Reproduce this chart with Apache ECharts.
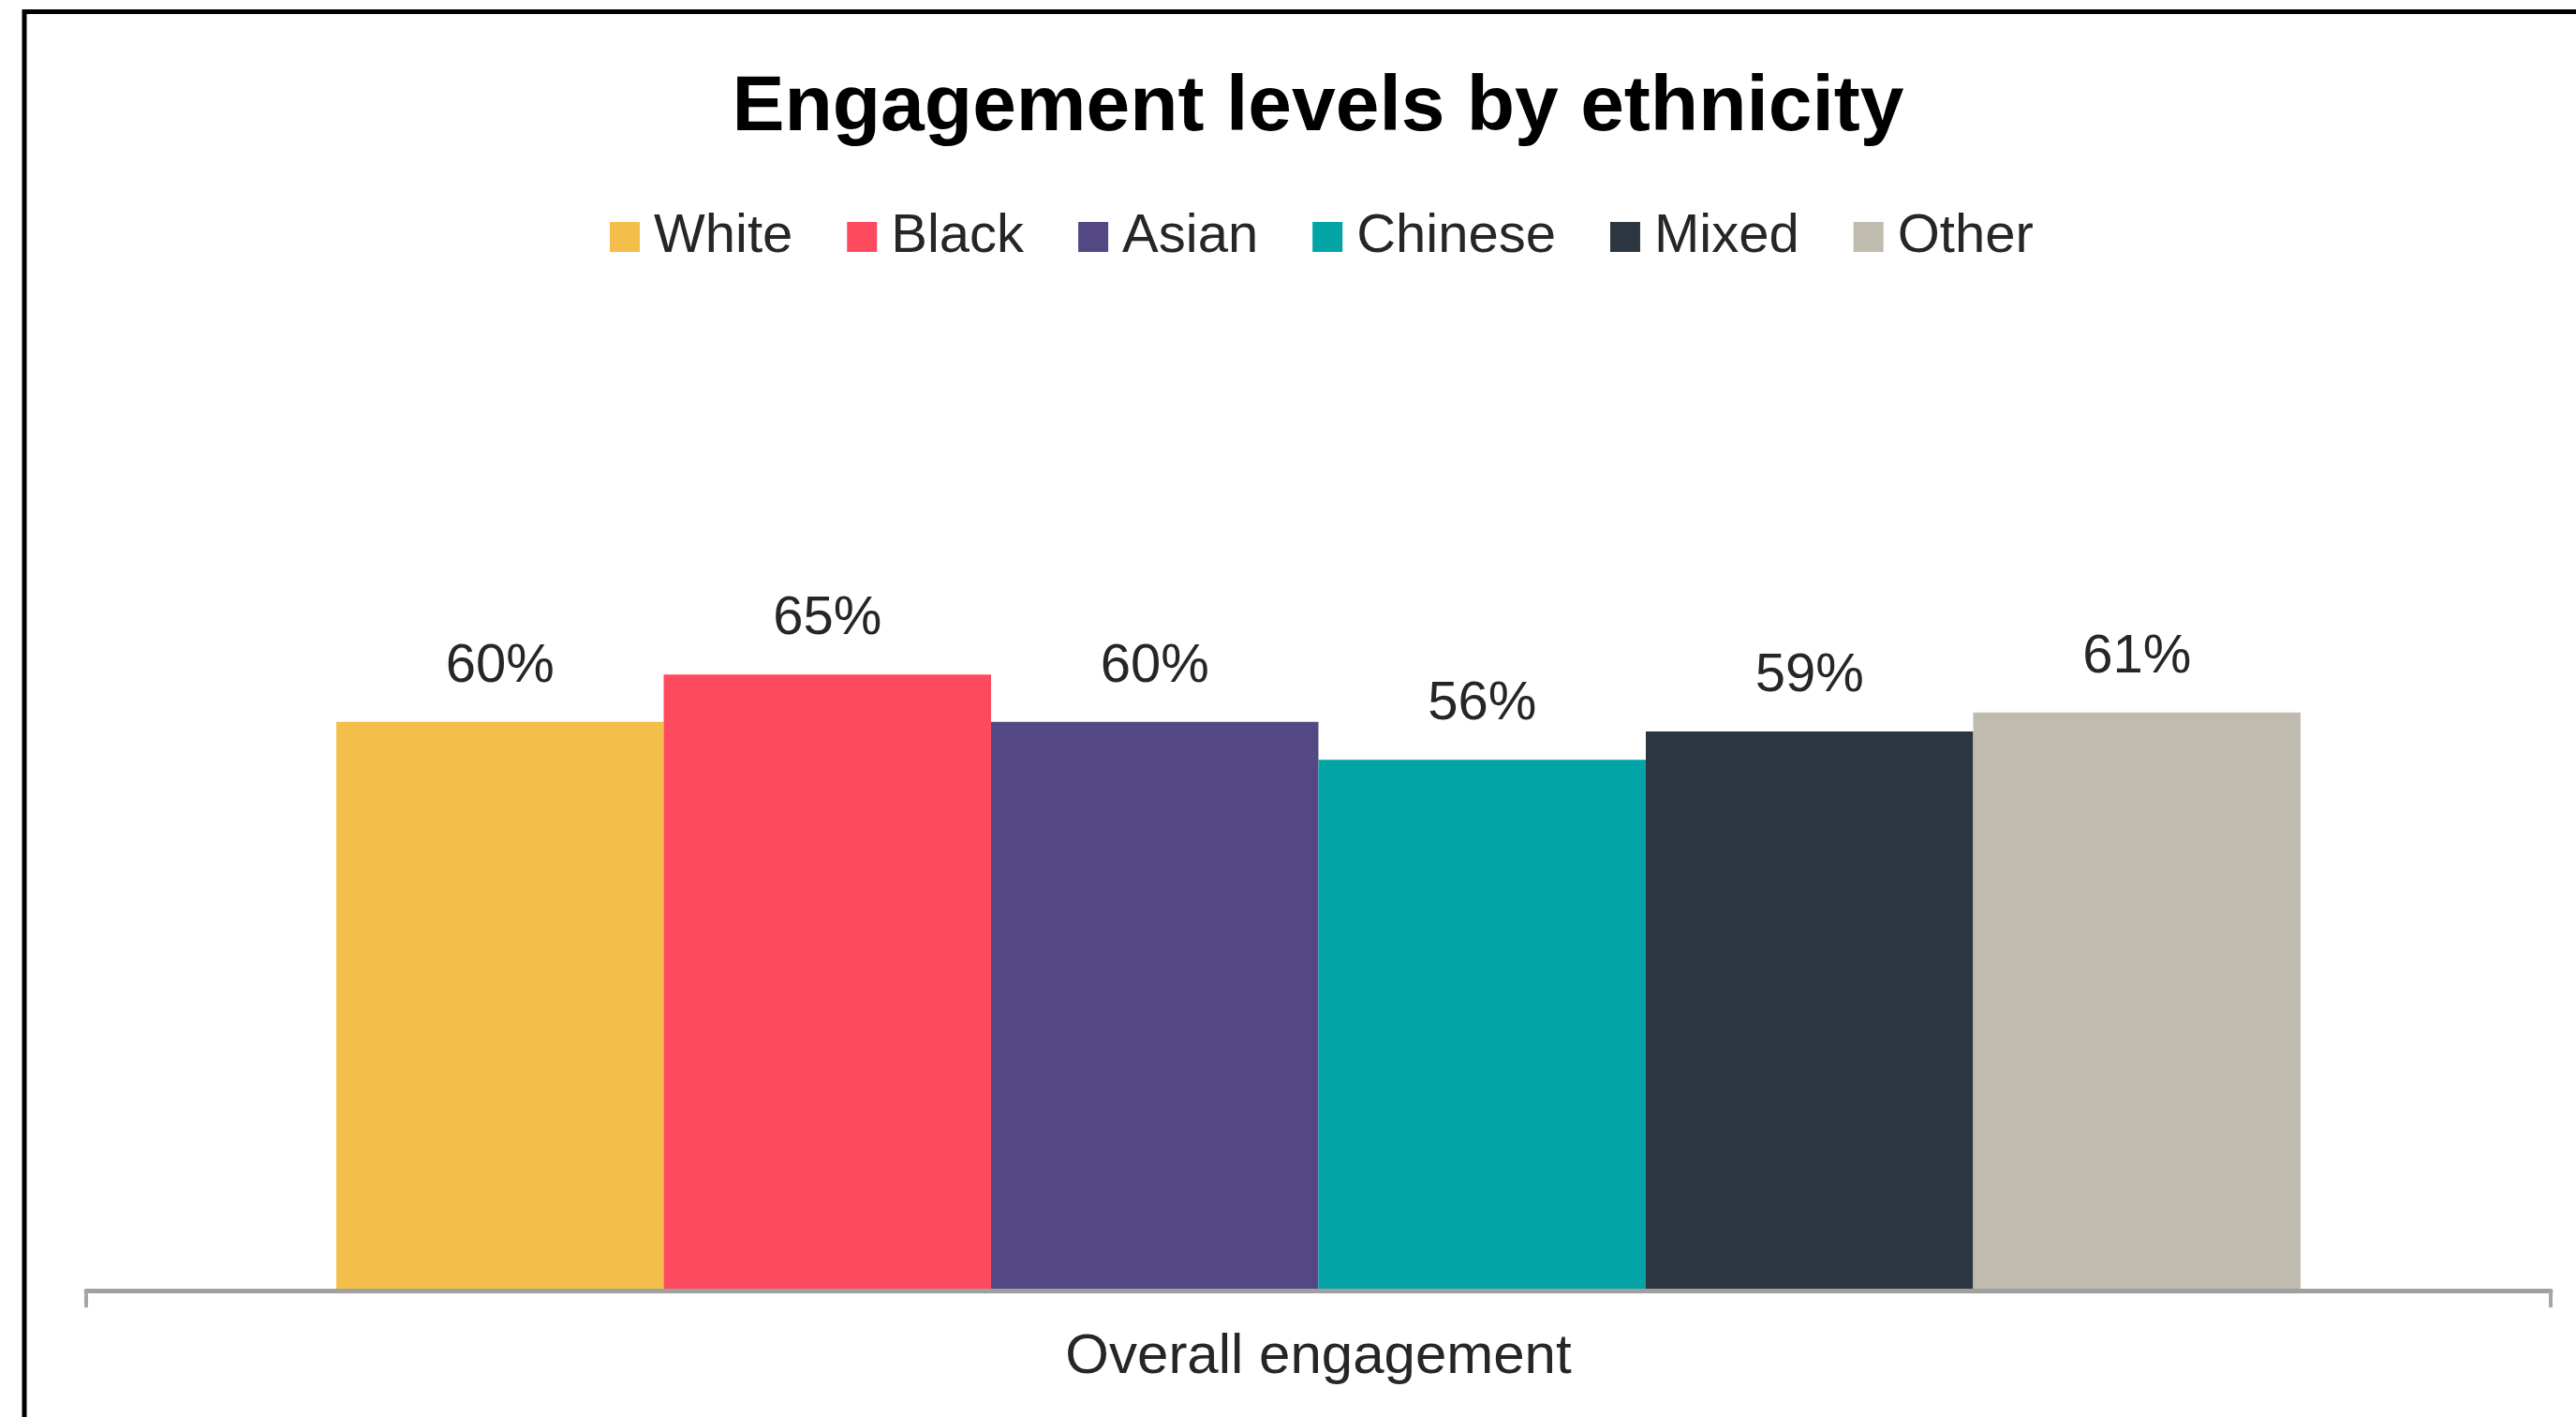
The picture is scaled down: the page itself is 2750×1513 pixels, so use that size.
<!DOCTYPE html>
<html>
<head>
<meta charset="utf-8">
<script src="https://cdn.jsdelivr.net/npm/echarts@6/dist/echarts.min.js"></script>
<style>
  html, body { margin: 0; padding: 0; background: #fff; }
  #main { width: 2750px; height: 1513px; }
</style>
</head>
<body>
<div id="main"></div>
<script>
// chart data
const categories = ['Overall engagement'];
const groups = ['White', 'Black', 'Asian', 'Chinese', 'Mixed', 'Other'];
const values = [60, 65, 60, 56, 59, 61];
const colors = ['#F3BE4A', '#FE4A5F', '#534784', '#02A4A6', '#2C3640', '#BFBBAF'];

const myChart = echarts.init(document.getElementById('main'));

const font = 'Liberation Sans, Arial, sans-serif';

const series = groups.map(function (name, i) {
  return {
    name: name,
    type: 'bar',
    barGap: '0%',
    barCategoryGap: '20.3%',
    itemStyle: { color: colors[i] },
    label: {
      show: true,
      position: 'top',
      distance: 30,
      fontFamily: font,
      fontSize: 58,
      color: '#262626',
      formatter: function (p) { return p.value + '%'; }
    },
    data: [values[i]]
  };
});

// the first legend entry has a wider gap after it, as in the original
const legendData = groups.map(function (name, i) {
  return i === 0
    ? { name: name, textStyle: { padding: [0, 30, 0, 10] } }
    : { name: name };
});

const option = {
  backgroundColor: '#ffffff',
  animation: false,
  title: {
    text: 'Engagement levels by ethnicity',
    left: 1402,
    top: 69,
    textAlign: 'center',
    textStyle: {
      fontFamily: font,
      fontSize: 84,
      fontWeight: 'bold',
      color: '#000000'
    }
  },
  legend: {
    left: 646,
    top: 219,
    itemWidth: 32,
    itemHeight: 32,
    itemGap: 58,
    icon: 'rect',
    textStyle: {
      fontFamily: font,
      fontSize: 58,
      color: '#262626',
      padding: [0, 0, 0, 10]
    },
    data: legendData
  },
  grid: {
    left: 92,
    right: 27,
    top: 366,
    bottom: 135
  },
  xAxis: {
    type: 'category',
    data: categories,
    axisLine: { lineStyle: { color: '#a0a0a0', width: 5 } },
    axisTick: { show: true, length: 18, lineStyle: { color: '#a6a6a6', width: 4 } },
    axisLabel: {
      margin: 41,
      fontFamily: font,
      fontSize: 60,
      color: '#262626'
    },
    z: 10
  },
  yAxis: {
    type: 'value',
    min: 0,
    max: 100,
    show: false,
    splitLine: { show: false }
  },
  graphic: [
    {
      type: 'rect',
      silent: true,
      z: 100,
      shape: { x: 26, y: 12.5, width: 2800, height: 1600 },
      style: { fill: 'none', stroke: '#000000', lineWidth: 5 }
    }
  ],
  series: series
};

myChart.setOption(option);
</script>
</body>
</html>
